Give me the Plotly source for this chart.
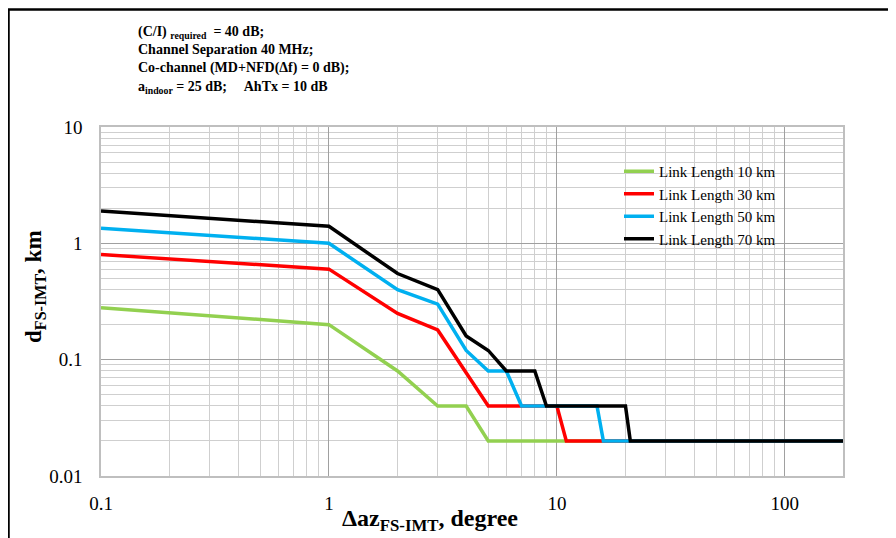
import plotly.graph_objects as go
import numpy as np

# ---- data ----
x_10km = [0.1, 1, 2, 3, 4, 5, 180]
y_10km = [0.28, 0.2, 0.08, 0.04, 0.04, 0.02, 0.02]

x_30km = [0.1, 1, 2, 3, 5, 10, 11, 180]
y_30km = [0.8, 0.6, 0.25, 0.18, 0.04, 0.04, 0.02, 0.02]

x_50km = [0.1, 1, 2, 3, 4, 5, 6, 7, 15, 16, 180]
y_50km = [1.35, 1.0, 0.4, 0.3, 0.12, 0.08, 0.08, 0.04, 0.04, 0.02, 0.02]

x_70km = [0.1, 1, 2, 3, 4, 5, 6, 8, 9, 20, 21, 180]
y_70km = [1.9, 1.4, 0.55, 0.4, 0.16, 0.12, 0.08, 0.08, 0.04, 0.04, 0.02, 0.02]

series_names = ["Link Length 10 km", "Link Length 30 km", "Link Length 50 km", "Link Length 70 km"]
series_colors = ["#92D050", "#FF0000", "#00B0F0", "#000000"]

x_tickvals = [0.1, 1, 10, 100]
x_ticktext = ["0.1", "1", "10", "100"]
y_tickvals = [0.01, 0.1, 1, 10]
y_ticktext = ["0.01", "0.1", "1", "10"]
x_range = [0.1, 180]
y_range = [0.01, 10]

FONT = "Liberation Serif"

# plot area in screen pixels (page has an 8px body offset)
OFF = 8
PL, PR, PT, PB = 101, 843, 127, 476
PW, PH = PR - PL, PB - PT


def px(xs):
    return (xs - PL) / PW


def py(ys):
    return (PB - ys) / PH


fig = go.Figure()
for xs, ys, name, col in zip([x_10km, x_30km, x_50km, x_70km],
                             [y_10km, y_30km, y_50km, y_70km],
                             series_names, series_colors):
    fig.add_trace(go.Scatter(x=xs, y=ys, mode="lines", name=name,
                             line=dict(color=col, width=3.5)))

axis_common = dict(
    type="log",
    showgrid=True, gridcolor="#a0a0a0", gridwidth=1.2,
    minor=dict(dtick="D1", showgrid=True, gridcolor="#cfcfcf", gridwidth=1.2),
    showline=True, linecolor="#bfbfbf", linewidth=1.5, mirror=True,
    ticks="", zeroline=False,
    tickfont=dict(family=FONT, size=19, color="#000000"),
)

fig.update_xaxes(**axis_common, range=[np.log10(x_range[0]), np.log10(x_range[1])],
                 tickvals=x_tickvals, ticktext=x_ticktext, ticklabelstandoff=9)
fig.update_yaxes(**axis_common, range=[np.log10(y_range[0]), np.log10(y_range[1])],
                 tickvals=y_tickvals, ticktext=y_ticktext, ticklabelstandoff=13)

annotations = [
    dict(text="<b>(C/I) <sub>required</sub>  = 40 dB;<br>Channel Separation 40 MHz;<br>"
              "Co-channel (MD+NFD(Δf) = 0 dB);<br>a<sub>indoor</sub> = 25 dB;     AhTx = 10 dB</b>",
         xref="paper", yref="paper", x=px(136), y=py(22),
         xanchor="left", yanchor="top", align="left", showarrow=False,
         font=dict(family=FONT, size=14, color="#000000")),
    dict(text="<b>d<sub>FS-IMT</sub>, km</b>", xref="paper", yref="paper",
         x=px(35), y=py(287), textangle=-90,
         xanchor="center", yanchor="middle", showarrow=False,
         font=dict(family=FONT, size=23, color="#000000")),
    dict(text="<b>Δaz<sub>FS-IMT</sub>, degree</b>", xref="paper", yref="paper",
         x=px(430), y=py(520),
         xanchor="center", yanchor="middle", showarrow=False,
         font=dict(family=FONT, size=24, color="#000000")),
]

shapes = [
    # legend white background
    dict(type="rect", xref="paper", yref="paper",
         x0=px(588), x1=px(838), y0=py(253), y1=py(157),
         fillcolor="#ffffff", line=dict(width=0), layer="between"),
    # outer chart border
    dict(type="rect", xref="paper", yref="paper",
         x0=px(8.5), x1=px(1000), y0=py(700), y1=py(9.5),
         fillcolor="rgba(0,0,0,0)", line=dict(color="#000000", width=2.5)),
]

fig.update_layout(
    width=896, height=538,
    margin=dict(l=PL - OFF, r=896 - (PR - OFF), t=PT - OFF, b=538 - (PB - OFF)),
    paper_bgcolor="#ffffff", plot_bgcolor="#ffffff",
    showlegend=True,
    legend=dict(x=px(619), y=py(155), xanchor="left", yanchor="top",
                bgcolor="rgba(0,0,0,0)", borderwidth=0,
                font=dict(family=FONT, size=15, color="#000000")),
    annotations=annotations,
    shapes=shapes,
)

fig.write_html("out.html")
